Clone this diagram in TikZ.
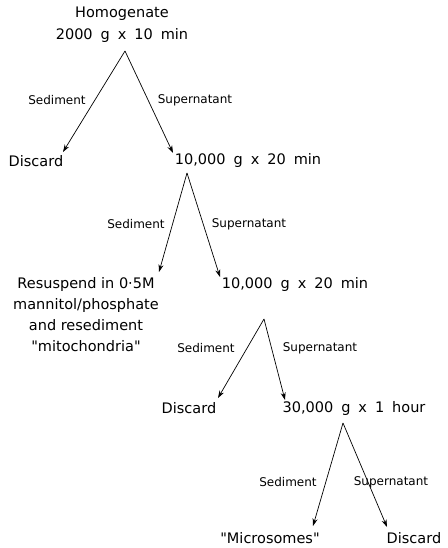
\documentclass[tikz,border=0pt]{standalone}
\usepackage{fontspec}
\setmainfont{DejaVu Sans}
\newfontfamily\qf{DejaVu Sans}
\usetikzlibrary{arrows.meta}
\newcommand\mainsz{\fontsize{14.5}{21}\selectfont}
\newcommand\labsz{\fontsize{12}{14}\selectfont}
\newcommand\gap{\hspace*{0.55em}}
\newcommand\dq{{\qf\symbol{"22}}}
\begin{document}
\begin{tikzpicture}[x=1pt,y=-1pt,
  main/.style={font=\mainsz, inner sep=0pt, align=center},
  lab/.style={font=\labsz, inner sep=0pt},
  arr/.style={-{Stealth[length=7.5pt,width=5pt]}, line width=0.7pt}]
\useasboundingbox (0,0) rectangle (447,548);
% nodes
\node[main, font=\fontsize{14.5}{22}\selectfont] (hom) at (122,25) {Homogenate\\2000\gap g\gap x\gap 10\gap min};
\node[main] (d1) at (36,161) {Discard};
\node[main] (c2) at (248,160) {10,000\gap g\gap x\gap 20\gap min};
\node[main] (res) at (86,315) {Resuspend in 0·5M\\mannitol/phosphate\\and resediment\\\dq mitochondria\dq};
\node[main] (c3) at (295,284) {10,000\gap g\gap x\gap 20\gap min};
\node[main] (d2) at (189,408) {Discard};
\node[main] (c4) at (354,408) {30,000\gap g\gap x\gap 1\gap hour};
\node[main] (mic) at (270,538) {\dq Microsomes\dq};
\node[main] (d3) at (414,538) {Discard};
% labels
\node[lab] (s1) at (57,100) {Sediment};
\node[lab] (p1) at (195,100) {Supernatant};
\node[lab] (s2) at (136,224) {Sediment};
\node[lab] (p2) at (249,224) {Supernatant};
\node[lab] (s3) at (206,348) {Sediment};
\node[lab] (p3) at (320,348) {Supernatant};
\node[lab] (s4) at (288,482) {Sediment};
\node[lab] (p4) at (391,482) {Supernatant};
% apex and tip coordinates
\coordinate (a1) at (125,51);
\coordinate (a2) at (187,173);
\coordinate (a3) at (264,319);
\coordinate (a4) at (343,423);
\coordinate (t1a) at (63,152);
\coordinate (t1b) at (173,153);
\coordinate (t2a) at (159,272);
\coordinate (t2b) at (220,277);
\coordinate (t3a) at (218,398);
\coordinate (t3b) at (285,400);
\coordinate (t4a) at (313,526);
\coordinate (t4b) at (387,527);
% arrows
\draw[arr] (a1) -- (t1a);
\draw[arr] (a1) -- (t1b);
\draw[arr] (a2) -- (t2a);
\draw[arr] (a2) -- (t2b);
\draw[arr] (a3) -- (t3a);
\draw[arr] (a3) -- (t3b);
\draw[arr] (a4) -- (t4a);
\draw[arr] (a4) -- (t4b);
\end{tikzpicture}
\end{document}
